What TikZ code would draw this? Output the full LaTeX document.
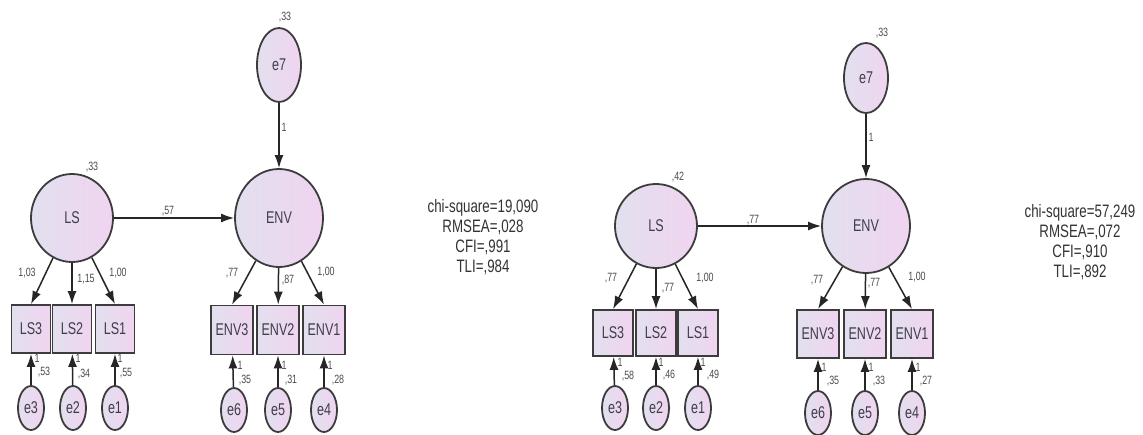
\documentclass[tikz,border=0pt]{standalone}
\usepackage{fontspec}
\usetikzlibrary{shapes.geometric,arrows.meta,shadings}

\newfontfamily\amos[FakeStretch=0.74]{Liberation Sans}
\newcommand\rotulo{\amos\fontsize{17}{19}\selectfont}
\newcommand\numero{\amos\fontsize{12}{14}\selectfont}
\newcommand\ajuste{\amos\fontsize{18}{20}\selectfont}

\definecolor{fillL}{HTML}{E2E0EE}
\definecolor{fillR}{HTML}{F0D4F0}
\definecolor{linha}{HTML}{3C3C3C}
\definecolor{texto}{HTML}{3E3E4A}

\begin{document}
\begin{tikzpicture}[x=1pt, y=-1pt,
    latent/.style={ellipse, draw=linha, line width=1.8pt, left color=fillL, right color=fillR,
                   inner sep=0pt, text=texto, font=\rotulo},
    obs/.style={rectangle, draw=linha, line width=1.8pt, left color=fillL, right color=fillR,
                inner sep=0pt, text=texto, font=\rotulo},
    erro/.style={latent, minimum width=26pt, minimum height=44pt},
    num/.style={font=\numero, text=black!70, inner sep=0pt},
    seta/.style={-{Latex[length=13pt,width=9pt]}, line width=1.5pt, draw=black!85}]

    \fill[white] (0,0) rectangle (1143,434);
    \useasboundingbox (0,0) rectangle (1143,434);

    % Modelo 1 - variaveis latentes
    \node[latent, minimum width=82pt, minimum height=88pt] (LSa) at (72,218) {LS};
    \node[latent, minimum width=88pt, minimum height=98pt] (ENVa) at (279,218) {ENV};
    \node[latent, minimum width=44pt, minimum height=74pt] (e7a) at (279,65) {e7};

    % Modelo 1 - indicadores
    \node[obs, minimum width=39pt, minimum height=48pt] (LS3a) at (31,329) {LS3};
    \node[obs, minimum width=39pt, minimum height=48pt] (LS2a) at (72,329) {LS2};
    \node[obs, minimum width=39pt, minimum height=48pt] (LS1a) at (115,329) {LS1};
    \node[obs, minimum width=42pt, minimum height=49pt] (ENV3a) at (232,330) {ENV3};
    \node[obs, minimum width=42pt, minimum height=49pt] (ENV2a) at (278,330) {ENV2};
    \node[obs, minimum width=42pt, minimum height=49pt] (ENV1a) at (324,330) {ENV1};

    % Modelo 1 - erros
    \node[erro] (e3a) at (31,408) {e3};
    \node[erro] (e2a) at (73,408) {e2};
    \node[erro] (e1a) at (115,408) {e1};
    \node[erro] (e6a) at (234,410) {e6};
    \node[erro] (e5a) at (278,410) {e5};
    \node[erro] (e4a) at (324,410) {e4};

    % Modelo 1 - setas
    \draw[seta] (LSa) -- (ENVa);
    \draw[seta] (e7a) -- (ENVa);
    \draw[seta] (LSa) -- (LS3a.north);
    \draw[seta] (LSa) -- (LS2a);
    \draw[seta] (LSa) -- (LS1a.north);
    \draw[seta] (ENVa) -- (ENV3a.north);
    \draw[seta] (ENVa) -- (ENV2a);
    \draw[seta] (ENVa) -- (ENV1a.north);
    \draw[seta] (e3a) -- (LS3a);
    \draw[seta] (e2a) -- (LS2a);
    \draw[seta] (e1a) -- (LS1a);
    \draw[seta] (e6a) -- (ENV3a);
    \draw[seta] (e5a) -- (ENV2a);
    \draw[seta] (e4a) -- (ENV1a);

    % Modelo 1 - estimativas
    \node[num] (vLSa) at (92,167) {,33};
    \node[num] (ve7a) at (285,17) {,33};
    \node[num] (bLSa) at (168,211) {,57};
    \node[num] (be7a) at (284,127) {1};
    \node[num] (l3a) at (27,273) {1,03};
    \node[num] (l2a) at (86,279) {1,15};
    \node[num] (l1a) at (118,273) {1,00};
    \node[num] (u3a) at (37,358) {1};
    \node[num] (u2a) at (78,358) {1};
    \node[num] (u1a) at (120,358) {1};
    \node[num] (v3a) at (44,372) {,53};
    \node[num] (v2a) at (84,374) {,34};
    \node[num] (v1a) at (126,373) {,55};
    \node[num] (m3a) at (232,273) {,77};
    \node[num] (m2a) at (288,280) {,87};
    \node[num] (m1a) at (326,272) {1,00};
    \node[num] (u6a) at (240,365) {1};
    \node[num] (u5a) at (284,365) {1};
    \node[num] (u4a) at (330,365) {1};
    \node[num] (v6a) at (245,380) {,35};
    \node[num] (v5a) at (291,380) {,31};
    \node[num] (v4a) at (338,380) {,28};

    % Ajuste do modelo 1
    \node[font=\ajuste, text=black!80, align=center] (fita) at (483,237)
        {chi-square=19,090\\RMSEA=,028\\CFI=,991\\TLI=,984};

    % Modelo 2 - variaveis latentes
    \node[latent, minimum width=82pt, minimum height=84pt] (LSb) at (656,226) {LS};
    \node[latent, minimum width=88pt, minimum height=94pt] (ENVb) at (866,226) {ENV};
    \node[latent, minimum width=44pt, minimum height=70pt] (e7b) at (866,78) {e7};

    % Modelo 2 - indicadores
    \node[obs, minimum width=40pt, minimum height=46pt] (LS3b) at (613,333) {LS3};
    \node[obs, minimum width=40pt, minimum height=46pt] (LS2b) at (656,333) {LS2};
    \node[obs, minimum width=40pt, minimum height=46pt] (LS1b) at (698,333) {LS1};
    \node[obs, minimum width=42pt, minimum height=48pt] (ENV3b) at (818,334) {ENV3};
    \node[obs, minimum width=42pt, minimum height=48pt] (ENV2b) at (865,334) {ENV2};
    \node[obs, minimum width=42pt, minimum height=48pt] (ENV1b) at (912,334) {ENV1};

    % Modelo 2 - erros
    \node[erro] (e3b) at (615,408) {e3};
    \node[erro] (e2b) at (656,408) {e2};
    \node[erro] (e1b) at (698,408) {e1};
    \node[erro] (e6b) at (818,413) {e6};
    \node[erro] (e5b) at (865,413) {e5};
    \node[erro] (e4b) at (912,413) {e4};

    % Modelo 2 - setas
    \draw[seta] (LSb) -- (ENVb);
    \draw[seta] (e7b) -- (ENVb);
    \draw[seta] (LSb) -- (LS3b.north);
    \draw[seta] (LSb) -- (LS2b);
    \draw[seta] (LSb) -- (LS1b.north);
    \draw[seta] (ENVb) -- (ENV3b.north);
    \draw[seta] (ENVb) -- (ENV2b);
    \draw[seta] (ENVb) -- (ENV1b.north);
    \draw[seta] (e3b) -- (LS3b);
    \draw[seta] (e2b) -- (LS2b);
    \draw[seta] (e1b) -- (LS1b);
    \draw[seta] (e6b) -- (ENV3b);
    \draw[seta] (e5b) -- (ENV2b);
    \draw[seta] (e4b) -- (ENV1b);

    % Modelo 2 - estimativas
    \node[num] (vLSb) at (678,177) {,42};
    \node[num] (ve7b) at (882,33) {,33};
    \node[num] (bLSb) at (753,220) {,77};
    \node[num] (be7b) at (871,137) {1};
    \node[num] (l3b) at (611,278) {,77};
    \node[num] (l2b) at (668,288) {,77};
    \node[num] (l1b) at (705,278) {1,00};
    \node[num] (u3b) at (620,362) {1};
    \node[num] (u2b) at (661,362) {1};
    \node[num] (u1b) at (703,362) {1};
    \node[num] (v3b) at (628,376) {,58};
    \node[num] (v2b) at (669,375) {,46};
    \node[num] (v1b) at (713,375) {,49};
    \node[num] (m3b) at (817,280) {,77};
    \node[num] (m2b) at (874,283) {,77};
    \node[num] (m1b) at (917,277) {1,00};
    \node[num] (u6b) at (824,367) {1};
    \node[num] (u5b) at (871,367) {1};
    \node[num] (u4b) at (918,367) {1};
    \node[num] (v6b) at (833,381) {,35};
    \node[num] (v5b) at (879,381) {,33};
    \node[num] (v4b) at (926,381) {,27};

    % Ajuste do modelo 2
    \node[font=\ajuste, text=black!80, align=center] (fitb) at (1080,242)
        {chi-square=57,249\\RMSEA=,072\\CFI=,910\\TLI=,892};

\end{tikzpicture}
\end{document}
